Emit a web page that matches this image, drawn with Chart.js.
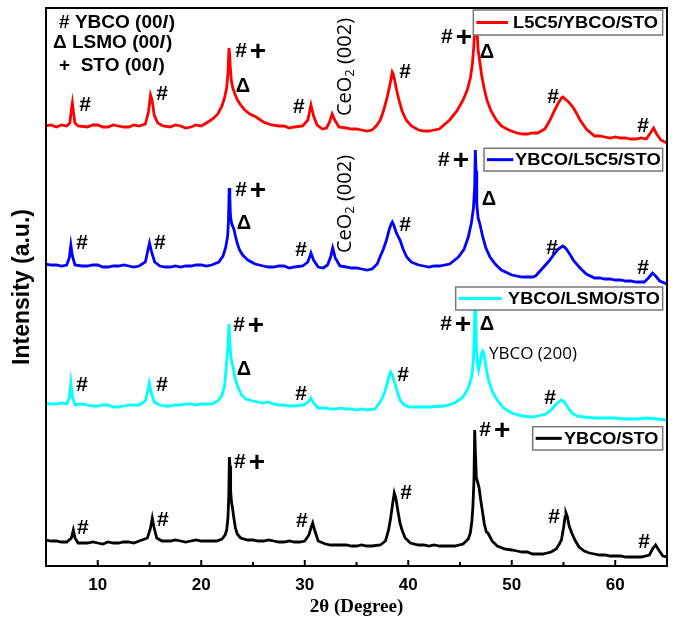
<!DOCTYPE html>
<html>
<head>
<meta charset="utf-8">
<script src="https://cdn.jsdelivr.net/npm/chart.js@4.4.1/dist/chart.umd.min.js"></script>
<style>
  html, body { margin: 0; padding: 0; background: #fff; }
</style>
</head>
<body>
<canvas id="xrdCanvas" width="677" height="624"></canvas>
<script>
// 2θ positions and intensities (a.u., curves already stacked)
const redTheta = [5,5.5,6,6.5,7,7.3,7.45,7.55,7.65,7.8,8.1,9,9.5,10,10.5,11,11.5,12,12.5,13,13.5,14,14.6,14.9,15.1,15.25,15.45,15.8,16.3,17,17.5,18,18.5,19,19.5,20,20.5,21.1,21.6,22,22.25,22.45,22.58,22.68,22.74,22.8,22.9,23.05,23.25,23.5,23.8,24.2,24.7,25.3,26,26.8,27.5,28,28.5,29,29.8,30.3,30.6,30.85,31.2,31.7,32.1,32.4,32.65,32.9,33.3,34,34.5,35,35.5,36,36.5,36.9,37.3,37.6,37.9,38.1,38.3,38.45,38.55,38.7,38.9,39.1,39.4,39.8,40.3,41,41.5,42,42.5,43,44,44.7,45.3,45.7,46,46.2,46.35,46.45,46.55,46.62,46.75,46.93,47.1,47.35,47.6,48,48.5,49,49.7,50.5,51,51.5,52,52.5,53.2,53.7,54.1,54.5,54.8,54.95,55.15,55.5,55.9,56.3,56.6,57.2,58,58.5,59,59.5,60,60.5,61,61.5,62,62.5,63,63.4,63.7,64,64.4,65];
const redCounts = [440,441,439,441,440,443,456,463,454,443,440,439,441,441,439,439,441,440,439,439,441,440,442,454,471,466,451,443,440,439,441,440,438,439,441,440,443,447,452,460,468,478,492,518,512,500,486,478,472,466,461,456,452,449,444,441,440,440,438,439,440,446,461,450,441,437,438,444,452,446,439,438,437,437,436,435,436,440,446,455,466,475,485,494,492,485,475,466,455,446,440,436,435,435,436,437,446,455,466,476,488,502,522,546,554,540,516,503,490,477,466,455,446,440,436,433,432,432,433,433,437,446,455,463,468,469,467,464,459,452,446,437,430,430,429,428,429,428,428,427,427,428,427,433,438,432,426,423];

const blueTheta = [5,5.5,6,6.5,7,7.25,7.4,7.55,7.8,8.5,9,9.5,10,10.5,11,11.5,12,12.5,13,13.5,14,14.6,14.85,15,15.2,15.5,16,16.5,17,17.5,18,18.5,19,19.5,20,20.5,21,21.7,22.1,22.35,22.55,22.63,22.7,22.76,22.82,22.95,23.15,23.3,23.5,23.7,24,24.5,25.2,26,26.5,27,27.5,28,28.5,29,29.8,30.3,30.6,30.85,31.3,31.8,32.2,32.5,32.7,32.95,33.4,34,34.5,35,35.5,36,36.5,37,37.27,37.6,37.9,38.15,38.35,38.46,38.6,38.85,39.2,39.5,39.85,40.3,41,41.5,42,42.5,43,44,44.85,45.4,45.8,46.1,46.3,46.42,46.48,46.55,46.62,46.75,46.9,47.05,47.2,47.5,47.9,48.4,49,50,51,52,52.3,53,53.6,54.1,54.5,54.92,55.2,55.6,56,56.6,57.2,58,58.5,59,59.5,60,60.5,61,61.5,62,62.8,63.2,63.6,63.9,64.3,65];
const blueCounts = [302,301,301,300,301,308,321,310,301,300,300,301,301,299,299,300,300,301,300,299,300,304,316,323,314,304,300,299,299,300,299,300,300,301,301,300,301,304,310,318,330,345,378,370,350,342,337,330,322,316,311,306,302,300,299,299,300,300,298,299,300,304,313,306,299,298,301,309,318,308,300,299,298,298,297,296,297,302,309,317,326,336,342,344,341,333,326,317,309,304,301,300,299,300,300,302,309,317,329,343,358,380,416,395,362,348,343,336,329,318,309,302,296,291,289,289,290,298,305,312,317,320,318,312,305,298,292,288,288,287,287,286,286,285,285,284,284,288,293,290,285,282];

const cyanTheta = [5,5.5,6,6.5,7,7.25,7.4,7.55,7.8,8.5,9,9.5,10,10.5,11,11.5,12,12.5,13,13.5,14,14.6,14.85,14.98,15.15,15.45,16,16.5,17,17.5,18,18.5,19,19.5,20,20.5,21,21.6,21.97,22.25,22.45,22.58,22.68,22.76,22.85,22.95,23.1,23.26,23.5,23.9,24.3,25,26,26.5,27,27.5,28,28.5,29,29.9,30.35,30.6,30.85,31.3,32,32.5,33,33.5,34,34.5,35,35.5,36,36.8,37.4,37.7,37.95,38.15,38.3,38.45,38.7,38.95,39.2,39.6,40.2,41,42,43.5,44.5,45.3,45.8,46.1,46.3,46.4,46.45,46.52,46.6,46.72,46.8,46.95,47.1,47.2,47.32,47.5,47.7,48,48.2,48.6,49.2,50,51,52,52.5,53.3,53.8,54.3,54.8,55.1,55.4,55.8,56.3,57,58,59,60,61,62,63,64,65];
const cyanCounts = [163,162,162,163,162,168,183,169,161,162,161,160,160,161,161,159,159,160,161,161,161,165,176,183,174,164,161,160,160,161,161,162,162,161,162,162,162,165,170,180,203,220,242,225,210,204,198,188,180,171,167,165,163,164,162,161,161,160,160,161,164,168,163,158,158,157,157,158,157,157,156,157,156,157,166,173,182,190,194,191,183,174,166,161,159,159,159,160,163,169,178,188,205,240,271,250,215,200,196,204,213,215,212,200,188,178,173,166,158,153,150,149,150,152,156,162,166,164,159,153,150,149,148,148,148,147,147,148,147,146];

const blackTheta = [5,5.5,6,6.5,7,7.45,7.64,7.8,8.1,9,9.5,10,10.5,11,11.5,12,12.5,13,13.5,14,14.8,15.1,15.27,15.45,15.7,16.2,17,17.5,18,18.5,19,19.5,20,20.5,21,21.5,22,22.3,22.46,22.58,22.66,22.72,22.78,22.84,22.92,23.02,23.15,23.3,23.48,23.8,24.5,25,25.5,26,26.5,27,27.5,28,28.5,29,29.5,30,30.4,30.6,30.77,30.95,31.3,32,32.5,33,33.5,34,34.5,35,35.5,36,36.5,37.3,37.8,38.1,38.3,38.5,38.65,38.8,39,39.2,39.4,39.7,40.2,41,41.5,42,42.5,43,43.5,44,44.5,45.3,45.8,46,46.15,46.25,46.35,46.42,46.5,46.58,46.7,46.85,47,47.15,47.35,47.55,47.7,47.85,48.1,48.6,49.3,50,50.5,51,51.5,52,52.5,53,53.8,54.3,54.6,54.8,55,55.15,55.24,55.35,55.55,55.8,56.1,56.5,57,57.5,58,58.5,59,59.5,60,60.5,61,61.5,62,62.5,63.3,63.6,63.9,64.2,64.6,65];
const blackCounts = [26,25,25,24,24,28,36,28,23,23,24,23,22,24,23,23,24,24,23,25,28,38,48,38,28,25,25,26,25,24,25,26,25,25,25,25,27,31,36,48,70,109,100,75,64,58,48,38,32,28,26,26,25,25,26,25,24,24,25,24,24,25,31,38,43,36,25,22,21,21,21,21,20,20,21,20,20,21,25,36,48,63,73,68,55,43,36,28,23,21,21,20,21,20,20,20,20,22,27,33,45,60,86,136,110,88,84,78,66,56,42,34,33,30,25,20,17,16,15,14,14,12,12,12,14,17,22,26,38,49,53,50,40,33,26,19,15,13,12,11,11,10,10,10,9,9,9,9,11,17,21,16,10,9];

const sampleNames = ["L5C5/YBCO/STO", "YBCO/L5C5/STO", "YBCO/LSMO/STO", "YBCO/STO"];
const sampleColors = ["#ff0000", "#0000ff", "#00ffff", "#000000"];
const xLabelTicks = [10, 20, 30, 40, 50, 60];

// legend boxes: [x0, x1, yTop, yBottom, lineEnd, textStart, textEnd] in data units
const legendBoxes = [
  [46.29, 64.58, 556, 531, 49.64, 50.12, 64.13],
  [47.32, 64.58, 417.7, 395, 50.15, 50.31, 64.39],
  [44.58, 64.58, 279, 256, 49.03, 49.64, 64.32],
  [52.02, 64.58, 139.3, 116, 54.83, 55.05, 64.16]
];

// peak markers [symbol, 2θ, intensity]
const peakMarks = [
  ["#", 8.77, 461], ["#", 16.21, 472], ["#+", 24.71, 515], ["Δ", 24.03, 480], ["#", 29.44, 459],
  ["#", 39.69, 494], ["#+", 44.61, 529], ["Δ", 47.61, 514], ["#", 53.99, 469], ["#", 62.68, 440],
  ["#", 8.48, 323], ["#", 16.01, 323], ["#+", 24.71, 376], ["Δ", 24.13, 343], ["#", 29.64, 316],
  ["#", 39.69, 341], ["#+", 44.32, 406], ["Δ", 47.80, 367], ["#", 53.89, 318], ["#", 62.68, 298],
  ["#", 8.48, 181], ["#", 16.21, 181], ["#+", 24.52, 241], ["Δ", 24.13, 197], ["#", 29.64, 172],
  ["#", 39.49, 191], ["#+", 44.52, 242], ["Δ", 47.61, 242], ["#", 53.70, 168],
  ["#", 8.57, 38], ["#", 16.30, 46], ["#+", 24.61, 104], ["#", 29.73, 45],
  ["#", 39.78, 73], ["#+", 48.29, 136], ["#", 54.08, 49], ["#", 62.78, 24]
];
const ceriaMarks = [[33.89, 499], [33.89, 362]];
const ybco200Mark = [52.05, 212];
const keyLines = [["# YBCO (00", 6.26, 543.5], ["Δ LSMO (00", 5.68, 523.5], ["+  STO (00", 6.26, 500.5]];

function pairs(xs, ys) {
  return xs.map((v, i) => ({ x: v, y: ys[i] }));
}

const seriesData = [pairs(redTheta, redCounts), pairs(blueTheta, blueCounts), pairs(cyanTheta, cyanCounts), pairs(blackTheta, blackCounts)];

const boldSans = size => "bold " + size + "px Arial, 'Liberation Sans'";

const decorations = {
  id: "decorations",
  afterDatasetsDraw(chart) {
    const ctx = chart.ctx;
    const a = chart.chartArea;
    const xs = chart.scales.x, ys = chart.scales.y;
    const px = v => xs.getPixelForValue(v);
    const py = v => ys.getPixelForValue(v);
    ctx.save();

    // legend boxes
    legendBoxes.forEach((b, i) => {
      const l = px(b[0]), r = px(b[1]), t = py(b[2]), bt = py(b[3]);
      ctx.fillStyle = "#fff";
      ctx.fillRect(l, t, r - l, bt - t);
      ctx.strokeStyle = "#777";
      ctx.lineWidth = 1.5;
      ctx.strokeRect(l, t, r - l, bt - t);
      const cy = (t + bt) / 2;
      ctx.strokeStyle = sampleColors[i];
      ctx.lineWidth = 3;
      ctx.beginPath();
      ctx.moveTo(l + 3, cy);
      ctx.lineTo(px(b[4]), cy);
      ctx.stroke();
      ctx.fillStyle = "#000";
      ctx.font = boldSans(17);
      ctx.textAlign = "left";
      ctx.textBaseline = "middle";
      const w = ctx.measureText(sampleNames[i]).width;
      const target = px(b[6]) - px(b[5]);
      ctx.save();
      ctx.translate(px(b[5]), cy + 1);
      ctx.scale(target / w, 1);
      ctx.fillText(sampleNames[i], 0, 0);
      ctx.restore();
    });

    // peak markers
    ctx.fillStyle = "#000";
    ctx.textBaseline = "middle";
    ctx.textAlign = "center";
    peakMarks.forEach(m => {
      const x = px(m[1]), y = py(m[2]);
      if (m[0] === "#+") {
        ctx.font = boldSans(21);
        ctx.fillText("#", x - 9, y);
        ctx.font = boldSans(28);
        ctx.fillText("+", x + 8, y + 1);
      } else {
        ctx.font = boldSans(m[0] === "#" ? 21 : 20);
        ctx.fillText(m[0], x, y);
      }
    });

    // CeO2 (002), rotated
    ceriaMarks.forEach(c => {
      ctx.save();
      ctx.translate(px(c[0]), py(c[1]));
      ctx.rotate(-Math.PI / 2);
      ctx.textAlign = "left";
      ctx.textBaseline = "middle";
      ctx.font = "20px 'Open Sans'";
      const w1 = ctx.measureText("CeO").width;
      const w3 = ctx.measureText(" (002)").width;
      ctx.font = "13px 'Open Sans'";
      const w2 = ctx.measureText("2").width;
      const x0 = -(w1 + w2 + w3) / 2;
      ctx.font = "20px 'Open Sans'";
      ctx.fillText("CeO", x0, 0);
      ctx.font = "13px 'Open Sans'";
      ctx.fillText("2", x0 + w1, 5);
      ctx.font = "20px 'Open Sans'";
      ctx.fillText(" (002)", x0 + w1 + w2, 0);
      ctx.restore();
    });

    ctx.font = "17px 'Open Sans'";
    ctx.textAlign = "center";
    ctx.fillText("YBCO (200)", px(ybco200Mark[0]), py(ybco200Mark[1]));

    // phase key
    ctx.textAlign = "left";
    keyLines.forEach(k => {
      let x = px(k[1]);
      const y = py(k[2]);
      ctx.font = boldSans(19);
      ctx.fillText(k[0], x, y);
      x += ctx.measureText(k[0]).width;
      ctx.font = "italic " + boldSans(19);
      ctx.fillText("l", x, y);
      x += ctx.measureText("l").width + 1;
      ctx.font = boldSans(19);
      ctx.fillText(")", x, y);
    });

    // frame and inward ticks
    ctx.strokeStyle = "#000";
    ctx.lineWidth = 2;
    ctx.strokeRect(a.left, a.top, a.right - a.left, a.bottom - a.top);
    xs.ticks.forEach(t => {
      if (t.value <= xs.min || t.value >= xs.max) return;
      const x = px(t.value);
      const len = t.value % 10 === 0 ? 6 : 4;
      ctx.beginPath();
      ctx.moveTo(x, a.bottom);
      ctx.lineTo(x, a.bottom - len);
      ctx.stroke();
    });
    ctx.restore();
  }
};

new Chart(document.getElementById("xrdCanvas"), {
  type: "line",
  data: {
    datasets: seriesData.map((d, i) => ({
      label: sampleNames[i],
      data: d,
      borderColor: sampleColors[i],
      borderWidth: 2.8,
      pointRadius: 0,
      tension: 0,
      fill: false
    }))
  },
  options: {
    responsive: false,
    animation: false,
    devicePixelRatio: 1,
    layout: { padding: { top: 8, right: 10, left: 0, bottom: 0 } },
    plugins: { legend: { display: false }, tooltip: { enabled: false } },
    scales: {
      x: {
        type: "linear",
        min: 5,
        max: 65,
        afterFit: s => { s.height = 58; },
        grid: { display: false, drawTicks: false },
        border: { display: false },
        ticks: {
          stepSize: 5,
          padding: 9,
          color: "#000",
          font: { family: "Arial, 'Liberation Sans'", size: 17, weight: "bold" },
          callback: v => (xLabelTicks.includes(v) ? v : "")
        },
        title: {
          display: true,
          text: "2θ (Degree)",
          color: "#000",
          font: { family: "'Liberation Serif', 'Times New Roman'", size: 19, weight: "bold" },
          padding: { top: 0, bottom: 6 }
        }
      },
      y: {
        min: 0,
        max: 558,
        afterFit: s => { s.width = 46; },
        grid: { display: false, drawTicks: false },
        border: { display: false },
        ticks: { display: false },
        title: {
          display: true,
          text: "Intensity (a.u.)",
          color: "#000",
          font: { family: "Arial, 'Liberation Sans'", size: 23, weight: "bold" },
          padding: { top: 9, bottom: 0 }
        }
      }
    }
  },
  plugins: [decorations]
});
</script>
</body>
</html>
